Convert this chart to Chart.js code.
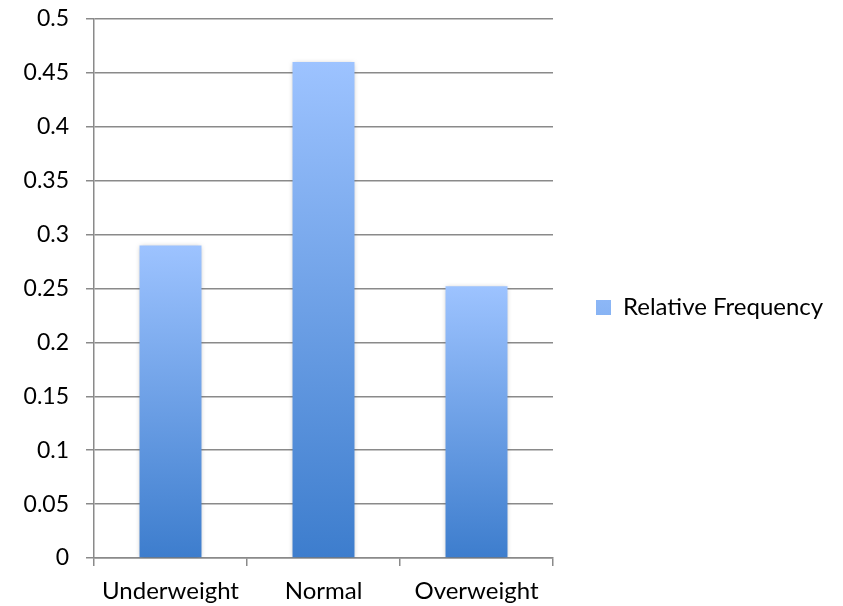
<!DOCTYPE html>
<html>
<head>
<meta charset="utf-8">
<script src="https://cdn.jsdelivr.net/npm/chart.js@4/dist/chart.umd.min.js"></script>
<style>
  html, body { margin: 0; padding: 0; background: #ffffff; }
  #wrap { width: 843px; height: 606px; }
</style>
</head>
<body>
<div id="wrap"><canvas id="c" width="843" height="606"></canvas></div>
<script>
// BMI category shares
const categories = ['Underweight', 'Normal', 'Overweight'];
const relativeFrequency = [0.29, 0.46, 0.252];
const seriesName = 'Relative Frequency';
const yTicks = [0, 0.05, 0.1, 0.15, 0.2, 0.25, 0.3, 0.35, 0.4, 0.45, 0.5];

const TOP_COLOR = '#9dc3ff';
const BOTTOM_COLOR = '#3d7dcd';
const GRID = '#8a8a8a';
const FONT = 'Lato, "Open Sans", sans-serif';

// Each bar fades from light at its top to deeper blue at its base
function barFill(ctx) {
  const chart = ctx.chart;
  const c = chart.ctx;
  if (ctx.type !== 'data') {
    const g = c.createLinearGradient(0, 300, 0, 316);
    g.addColorStop(0, TOP_COLOR);
    g.addColorStop(1, BOTTOM_COLOR);
    return g;
  }
  const y = chart.scales.y;
  if (!chart.chartArea || !y) return TOP_COLOR;
  const top = y.getPixelForValue(ctx.raw);
  const bottom = y.getPixelForValue(0);
  const g = c.createLinearGradient(0, top, 0, bottom);
  g.addColorStop(0, TOP_COLOR);
  g.addColorStop(1, BOTTOM_COLOR);
  return g;
}

// Soft drop shadow around the bars
const barShadow = {
  id: 'barShadow',
  beforeDatasetsDraw(chart) {
    const c = chart.ctx;
    c.save();
    c.shadowColor = 'rgba(0,0,0,0.28)';
    c.shadowBlur = 5;
    c.shadowOffsetX = 0;
    c.shadowOffsetY = 1;
  },
  afterDatasetsDraw(chart) {
    chart.ctx.restore();
  }
};

// Give the side legend a fixed column so the plot keeps its width,
// and centre its entry a little higher than the full canvas height
const legendColumn = {
  id: 'legendColumn',
  beforeInit(chart) {
    const legend = chart.legend;
    if (!legend) return;
    const fit = legend.fit.bind(legend);
    legend.fit = function () {
      fit();
      this.width = 290;
    };
  },
  afterLayout(chart) {
    if (chart.legend) chart.legend.bottom -= 10;
  }
};

new Chart(document.getElementById('c'), {
  type: 'bar',
  data: {
    labels: categories,
    datasets: [{
      label: seriesName,
      data: relativeFrequency,
      backgroundColor: barFill,
      borderWidth: 0,
      barPercentage: 0.405,
      categoryPercentage: 1.0
    }]
  },
  options: {
    responsive: false,
    animation: false,
    devicePixelRatio: 1,
    layout: { padding: { left: 0, right: 0, top: 19, bottom: 0 } },
    plugins: {
      tooltip: { enabled: false },
      legend: {
        position: 'right',
        align: 'center',
        labels: {
          boxWidth: 15,
          boxHeight: 15,
          padding: 43,
          color: '#000000',
          font: { family: FONT, size: 24 }
        }
      }
    },
    scales: {
      x: {
        offset: true,
        grid: {
          offset: true,
          drawOnChartArea: false,
          drawTicks: true,
          tickLength: 8,
          color: GRID,
          lineWidth: 1.5
        },
        border: { display: true, color: GRID, width: 1.5 },
        ticks: {
          color: '#000000',
          padding: 11,
          maxRotation: 0,
          font: { family: FONT, size: 24 }
        },
        afterFit(s) {
          s.height = 48;
          s.paddingLeft = 0;
          s.paddingRight = 0;
        }
      },
      y: {
        min: 0,
        max: 0.5,
        afterBuildTicks(s) { s.ticks = yTicks.map(v => ({ value: v })); },
        grid: {
          color: GRID,
          lineWidth: 1.5,
          drawTicks: true,
          tickLength: 8
        },
        border: { display: true, color: GRID, width: 1.5 },
        ticks: {
          color: '#000000',
          padding: 17,
          font: { family: FONT, size: 23 },
          callback: v => String(+Number(v).toFixed(2))
        },
        afterFit(s) {
          s.width = 94;
          s.paddingTop = 0;
          s.paddingBottom = 0;
        }
      }
    }
  },
  plugins: [barShadow, legendColumn]
});
</script>
</body>
</html>
